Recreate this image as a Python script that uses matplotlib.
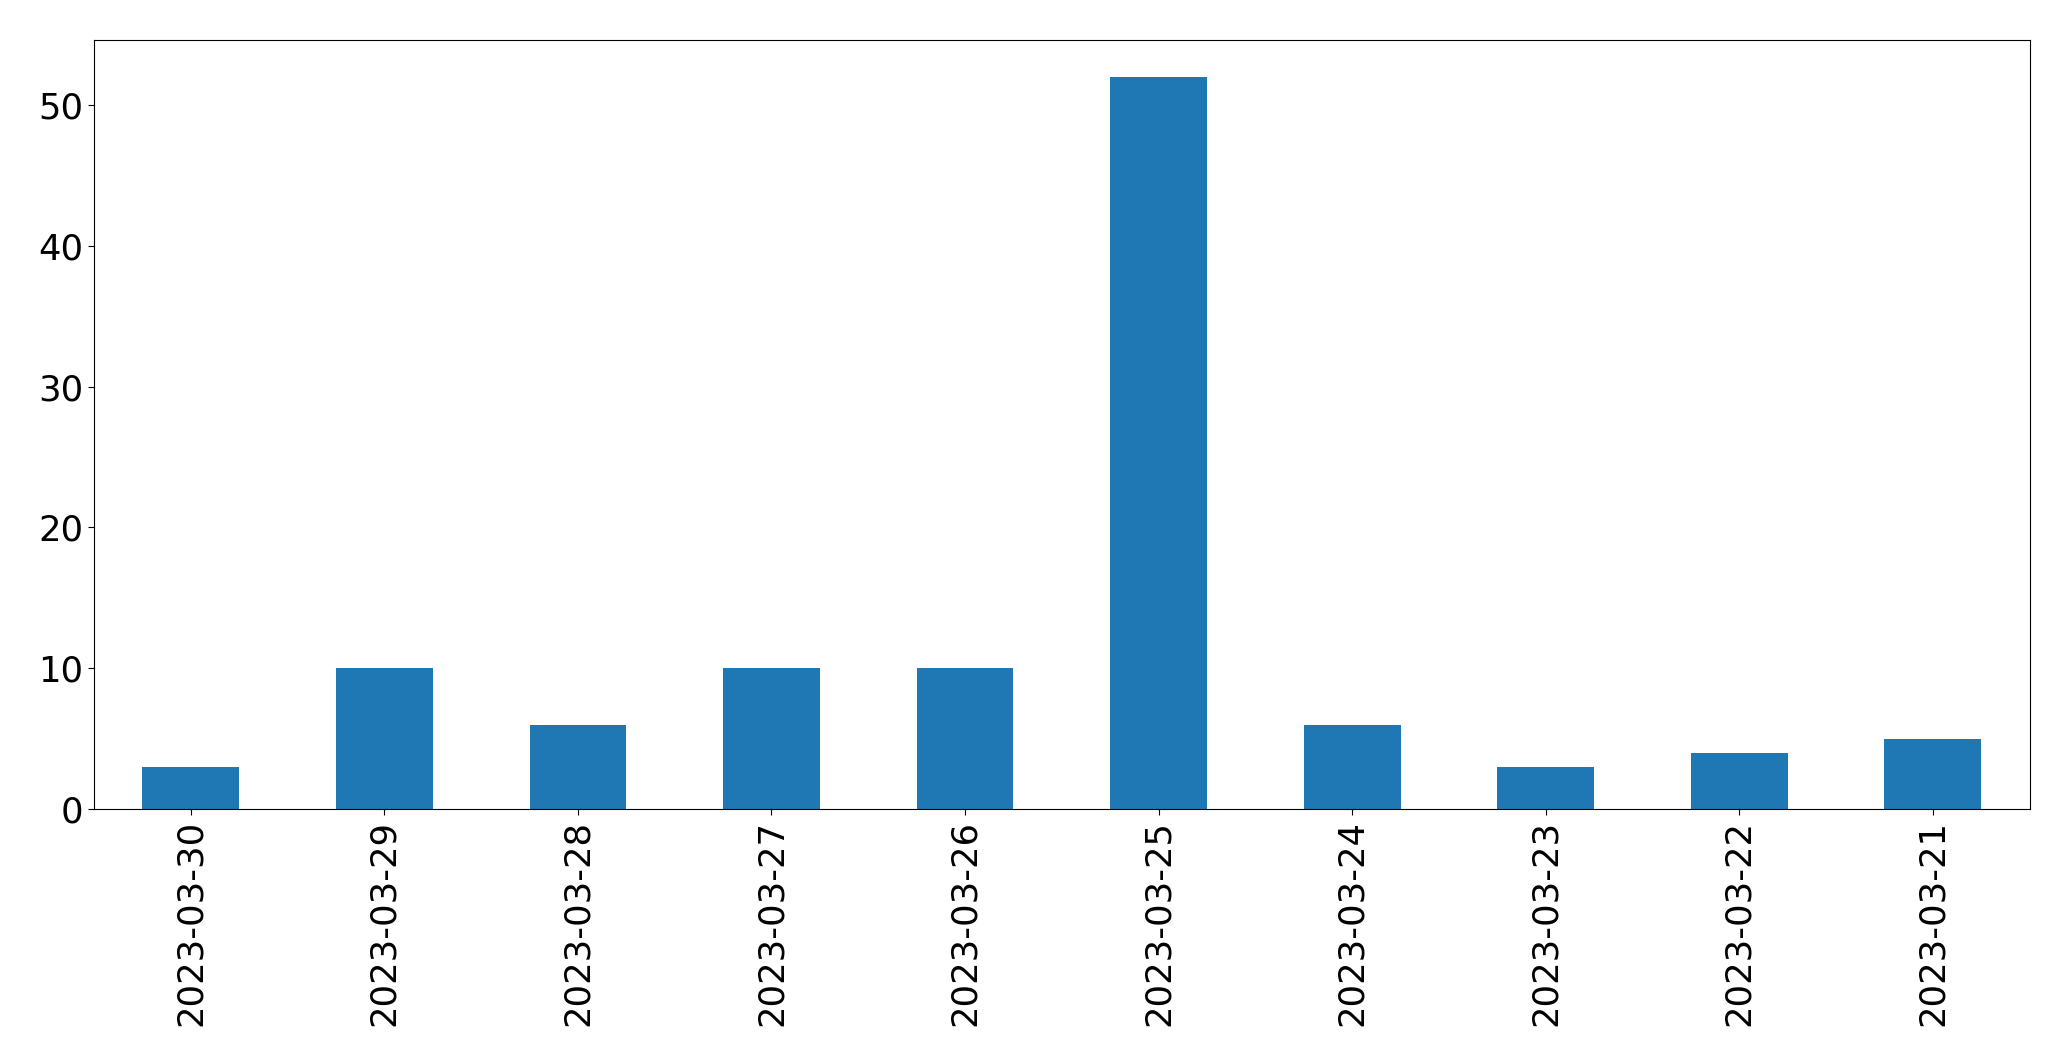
import matplotlib
matplotlib.use("Agg")
import matplotlib.pyplot as plt
import numpy as np

# Data
dates = ['2023-03-30', '2023-03-29', '2023-03-28', '2023-03-27', '2023-03-26',
         '2023-03-25', '2023-03-24', '2023-03-23', '2023-03-22', '2023-03-21']
counts = [3, 10, 6, 10, 10, 52, 6, 3, 4, 5]

fig = plt.figure(figsize=(20.71, 10.61), dpi=100)
ax = fig.add_axes([0.0454, 0.2375, 0.9346, 0.7245])

x = np.arange(len(dates))
ax.bar(x, counts, width=0.5, color='#1f77b4')
ax.set_xlim(-0.5, len(dates) - 0.5)
ax.set_xticks(x)
ax.set_xticklabels(dates, rotation=90)
ax.tick_params(labelsize=25.5, length=4.3)

fig.savefig('out.png', dpi=100)
